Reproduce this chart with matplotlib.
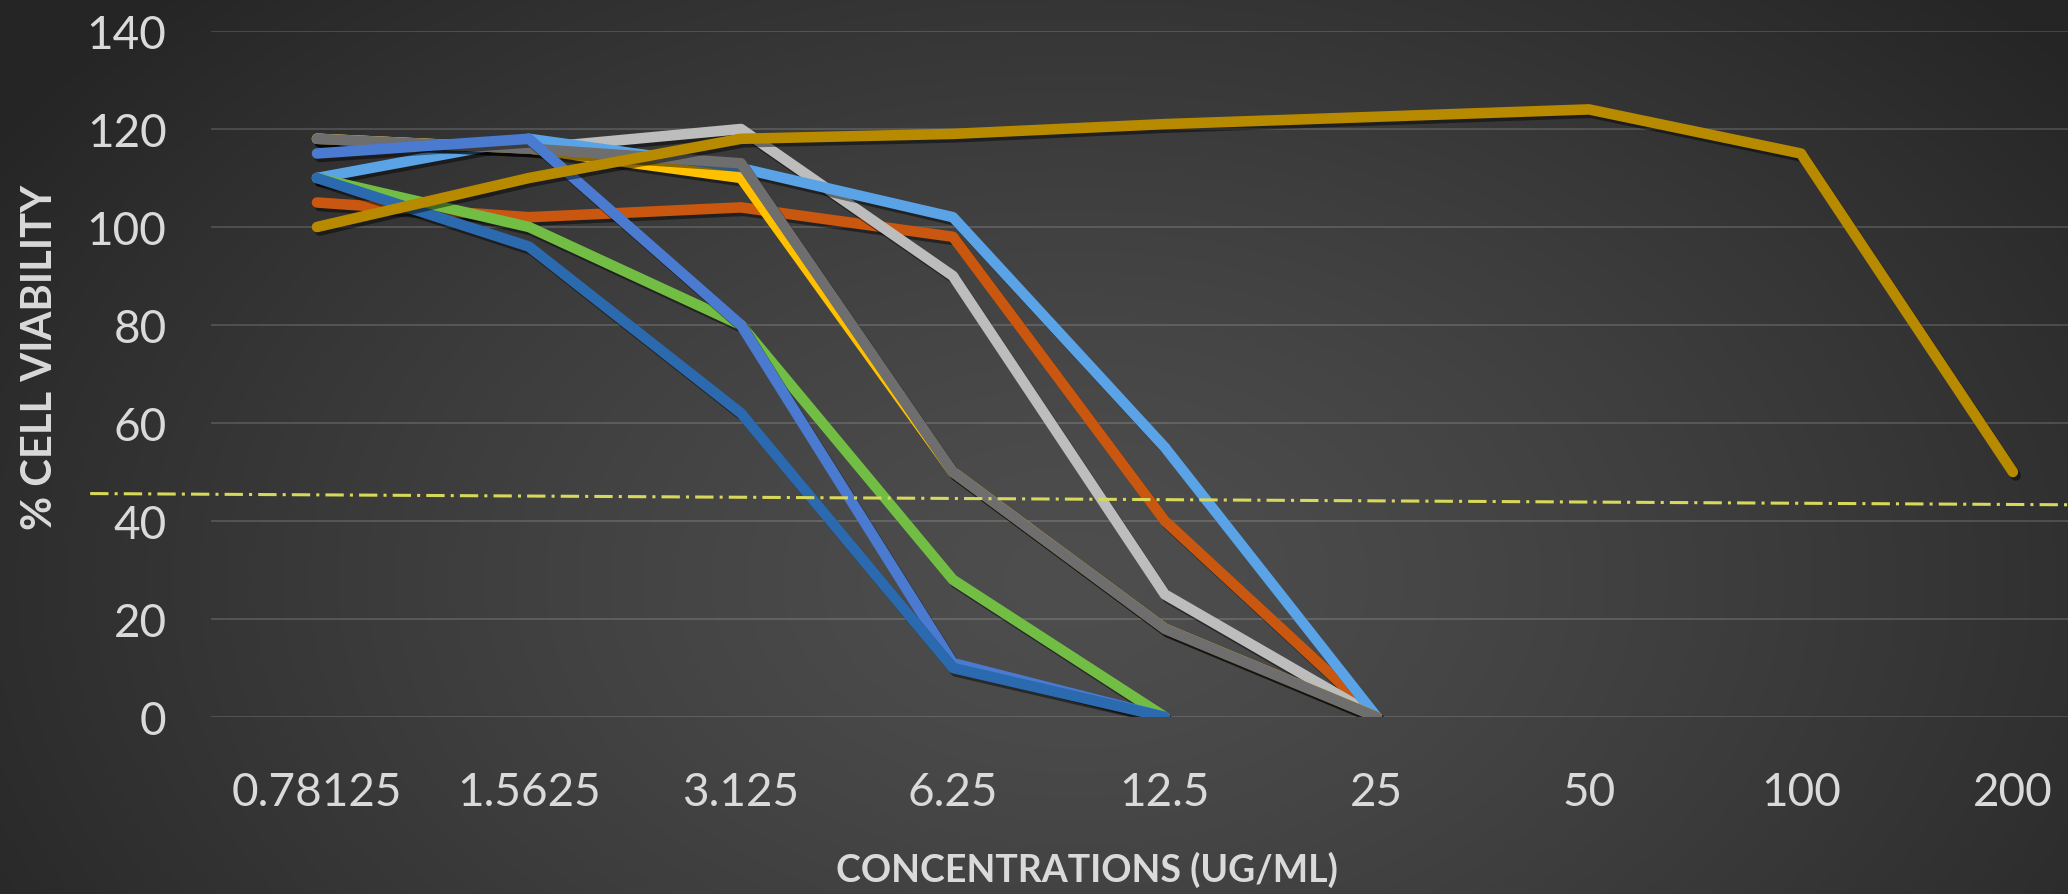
#!/usr/bin/env python3
"""
Cell viability dose-response curves on a dark gradient background
"""

import numpy as np
import matplotlib
matplotlib.use('Agg')
import matplotlib.pyplot as plt
import matplotlib.patheffects as pe

plt.rcParams['font.family'] = ['Lato', 'DejaVu Sans']

# Concentrations (ug/ml) shown as categories
categories = ['0.78125', '1.5625', '3.125', '6.25', '12.5', '25', '50', '100', '200']

# % cell viability per sample; nan where a sample has no reading
nan = np.nan
orange = [105, 102, 104, 98, 40, 0, nan, nan, nan]
light_gray = [118, 116, 120, 90, 25, 0, nan, nan, nan]
light_blue = [110, 118, 112, 102, 55, 0, nan, nan, nan]
yellow = [118, 116, 110, 50, 18, 0, nan, nan, nan]
dark_gray = [118, 116, 113, 50, 18, 0, nan, nan, nan]
green = [110, 100, 80, 28, 0, nan, nan, nan, nan]
blue = [115, 118, 80, 11, 0, nan, nan, nan, nan]
dark_blue = [110, 96, 62, 10, 0, nan, nan, nan, nan]
gold = [100, 110, 118, 119, 121, 122.5, 124, 115, 50]

# dash-dot cut-off line, left and right end values
cutoff = [45.6, 43.3]

series = [
    (orange, '#C9570F'),
    (light_gray, '#BDBDBD'),
    (light_blue, '#5AA3E6'),
    (yellow, '#FFC000'),
    (dark_gray, '#6E6E6E'),
    (green, '#72BE44'),
    (blue, '#4A7BD0'),
    (dark_blue, '#2B6AAE'),
    (gold, '#B88A00'),
]

TEXT = '#DADADA'


def draw_background(fig):
    """Radial grey gradient behind the whole figure"""
    bg = fig.add_axes([0, 0, 1, 1], zorder=-10)
    h, w = 300, 700
    yy, xx = np.mgrid[0:1:h * 1j, 0:1:w * 1j]
    r = np.sqrt(((xx - 0.52) / 0.62) ** 2 + ((yy - 0.65) / 0.95) ** 2)
    r = np.clip(r, 0, 1)
    inner, outer = 78, 37
    val = (inner + (outer - inner) * r ** 1.3) / 255.0
    img = np.dstack([val, val, val])
    bg.imshow(img, aspect='auto', extent=[0, 1, 0, 1], origin='upper')
    bg.set_axis_off()


def plot_viability():
    fig = plt.figure(figsize=(20.68, 8.95), dpi=100)
    draw_background(fig)

    ax = fig.add_axes([211 / 2068, 177 / 895, 1 - 211 / 2068, 686 / 895])
    ax.set_facecolor('none')
    x = np.arange(len(categories))

    for values, color in series:
        ax.plot(x, values, color=color, linewidth=7.6,
                solid_capstyle='round', solid_joinstyle='round',
                path_effects=[pe.SimpleLineShadow(offset=(2, -2.5), shadow_color='black', alpha=0.45),
                              pe.Normal()],
                zorder=3)

    # cut-off reference line running across the whole chart
    ax.plot([-1.07, 8.3], cutoff, color='#D8D85A', linewidth=2.2,
            dashes=(6, 2, 1, 2), clip_on=False, zorder=4)

    ax.set_xlim(-0.5, 8.26)
    ax.set_ylim(0, 140)
    ax.set_yticks(np.arange(0, 141, 20))
    ax.set_xticks(x)
    ax.set_xticklabels(categories)
    ax.grid(axis='y', color='#FFFFFF', alpha=0.16, linewidth=1.3, zorder=0)
    ax.set_axisbelow(True)
    for spine in ax.spines.values():
        spine.set_visible(False)
    ax.tick_params(axis='both', length=0, labelcolor=TEXT, labelsize=33)
    ax.tick_params(axis='y', pad=32)
    ax.tick_params(axis='x', pad=39)

    fig.text(1087 / 2068, 25 / 895, 'CONCENTRATIONS (UG/ML)', ha='center', va='center',
             fontsize=27, fontweight='bold', color=TEXT)
    fig.text(40 / 2068, 1 - 357 / 895, '% CELL VIABILITY', ha='center', va='center',
             rotation=90, fontsize=30, fontweight='bold', color=TEXT, zorder=5)

    fig.savefig('out.png', dpi=100)


if __name__ == '__main__':
    plot_viability()
